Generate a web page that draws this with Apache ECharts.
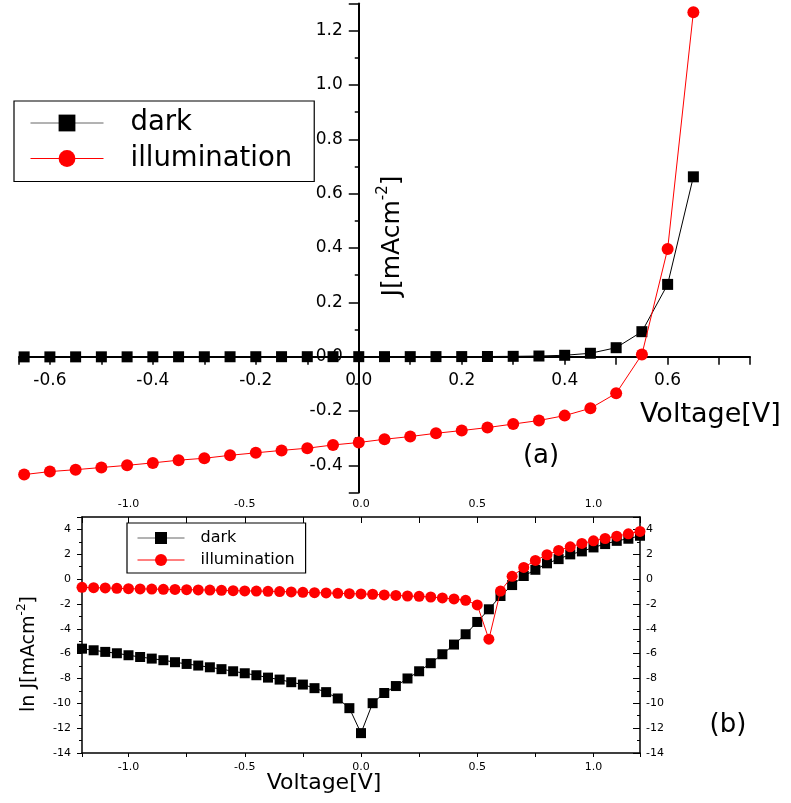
<!DOCTYPE html>
<html>
<head>
<meta charset="utf-8">
<script src="https://cdn.jsdelivr.net/npm/echarts@6/dist/echarts.min.js"></script>
<style>html,body{margin:0;padding:0;background:#fff}#c{width:791px;height:803px}</style>
</head>
<body>
<div id="c"></div>
<script>
// ---- Panel (a): J–V (linear) ----
var voltageA = [-0.65,-0.6,-0.55,-0.5,-0.45,-0.4,-0.35,-0.3,-0.25,-0.2,-0.15,-0.1,-0.05,0,
  0.05,0.1,0.15,0.2,0.25,0.3,0.35,0.4,0.45,0.5,0.55,0.6,0.65];
var darkA = [-0.0008,-0.0008,-0.0007,-0.0006,-0.0006,-0.0005,-0.0004,-0.0004,-0.0003,-0.0002,-0.0001,-0.0001,0,0,
  0.00005,0.0001,0.0002,0.0003,0.0006,0.0012,0.0024,0.0051,0.0125,0.033,0.092,0.266,0.662];
var illumA = [-0.434,-0.423,-0.416,-0.408,-0.400,-0.391,-0.381,-0.374,-0.363,-0.354,-0.345,-0.337,-0.325,-0.316,
  -0.304,-0.294,-0.282,-0.272,-0.261,-0.248,-0.235,-0.217,-0.190,-0.135,0.008,0.396,1.268];

// ---- Panel (b): ln J–V ----
var voltageB = [-1.2,-1.15,-1.1,-1.05,-1.0,-0.95,-0.9,-0.85,-0.8,-0.75,-0.7,-0.65,-0.6,-0.55,-0.5,-0.45,-0.4,-0.35,-0.3,-0.25,-0.2,-0.15,-0.1,-0.05,
  0,0.05,0.1,0.15,0.2,0.25,0.3,0.35,0.4,0.45,0.5,0.55,0.6,0.65,0.7,0.75,0.8,0.85,0.9,0.95,1.0,1.05,1.1,1.15,1.2];
var darkB = [-5.60,-5.73,-5.86,-5.97,-6.13,-6.27,-6.40,-6.53,-6.69,-6.83,-6.96,-7.10,-7.25,-7.42,-7.58,-7.74,-7.93,-8.09,-8.30,-8.49,-8.78,-9.10,-9.61,-10.39,
  -12.40,-9.99,-9.17,-8.61,-8.00,-7.42,-6.77,-6.05,-5.27,-4.44,-3.45,-2.43,-1.36,-0.48,0.25,0.75,1.27,1.61,1.99,2.23,2.55,2.82,3.08,3.25,3.49];
var illumB = [-0.66,-0.69,-0.71,-0.74,-0.77,-0.79,-0.80,-0.82,-0.83,-0.85,-0.87,-0.88,-0.90,-0.93,-0.95,-0.96,-0.98,-1.00,-1.03,-1.06,-1.09,-1.11,-1.14,-1.17,
  -1.19,-1.22,-1.27,-1.31,-1.36,-1.39,-1.44,-1.52,-1.60,-1.71,-2.08,-4.84,-0.96,0.22,0.94,1.50,1.96,2.31,2.60,2.87,3.08,3.27,3.46,3.65,3.84];

var seriesNames = ['dark', 'illumination'];

// axis ranges
var xRangeA = [-0.66, 0.76], yRangeA = [-0.5, 1.3];
var xRangeB = [-1.2, 1.2], yRangeB = [-14, 5];

function pairs(xs, ys) { return xs.map(function (x, i) { return [x, ys[i]]; }); }
function isMult(v, step) { var q = v / step; return Math.abs(q - Math.round(q)) < 1e-6; }

var W = 791, H = 803;
var FONT = 'DejaVu Sans';
// panel (a) grid box
var GA = {left: 19, right: 41, top: 3.5, bottom: 310.5};
var plotWA = W - GA.left - GA.right, plotHA = H - GA.top - GA.bottom;
var zeroXA = GA.left + (0 - xRangeA[0]) / (xRangeA[1] - xRangeA[0]) * plotWA;
var zeroYA = GA.top + (yRangeA[1] - 0) / (yRangeA[1] - yRangeA[0]) * plotHA;

var chart = echarts.init(document.getElementById('c'), null, {renderer: 'canvas'});

var hidden = {show: false};
var option = {
  backgroundColor: '#fff',
  animation: false,
  textStyle: {fontFamily: FONT, color: '#000'},
  grid: [
    {left: GA.left, right: GA.right, top: GA.top, bottom: GA.bottom, containLabel: false, outerBoundsMode: 'none'},
    {left: 82, right: 151, top: 517, bottom: 50, containLabel: false, outerBoundsMode: 'none'},
    // label carrier for panel (a) x axis (bottom edge sits on J = 0)
    {left: GA.left, right: GA.right, top: GA.top, bottom: H - zeroYA, containLabel: false, outerBoundsMode: 'none'},
    // label carrier for panel (a) y axis (left edge sits on V = 0)
    {left: zeroXA, right: GA.right, top: GA.top, bottom: GA.bottom, containLabel: false, outerBoundsMode: 'none'}
  ],
  xAxis: [
    {
      type: 'value', gridIndex: 0, min: xRangeA[0], max: xRangeA[1], minInterval: 0.2, maxInterval: 0.2,
      axisLine: {onZero: true, lineStyle: {color: '#000', width: 2}},
      axisTick: {inside: false, length: 8, lineStyle: {color: '#000', width: 1.5}},
      minorTick: {show: true, splitNumber: 2, length: 8, lineStyle: {color: '#000', width: 1.5}},
      splitLine: {show: false},
      axisLabel: {show: false}
    },
    {
      type: 'value', gridIndex: 1, position: 'bottom', min: xRangeB[0], max: xRangeB[1], minInterval: 0.5, maxInterval: 0.5,
      axisLine: {onZero: false, lineStyle: {color: '#000', width: 1.5}},
      axisTick: {inside: false, length: 4, lineStyle: {color: '#000', width: 1}},
      minorTick: {show: true, splitNumber: 2, length: 4, lineStyle: {color: '#000', width: 1}},
      splitLine: {show: false},
      axisLabel: {margin: 9, fontSize: 11, fontFamily: FONT, color: '#000',
        formatter: function (v) { return isMult(v, 0.5) ? v.toFixed(1) : ''; }}
    },
    {
      type: 'value', gridIndex: 1, position: 'top', min: xRangeB[0], max: xRangeB[1], minInterval: 0.5, maxInterval: 0.5,
      axisLine: {onZero: false, lineStyle: {color: '#000', width: 1.5}},
      axisTick: {inside: true, length: 6, lineStyle: {color: '#000', width: 1}},
      minorTick: {show: true, splitNumber: 2, length: 6, lineStyle: {color: '#000', width: 1}},
      splitLine: {show: false},
      axisLabel: {margin: 7, fontSize: 11, fontFamily: FONT, color: '#000',
        formatter: function (v) { return isMult(v, 0.5) ? v.toFixed(1) : ''; }}
    },
    {
      type: 'value', gridIndex: 2, position: 'bottom', min: xRangeA[0], max: xRangeA[1], minInterval: 0.2, maxInterval: 0.2,
      axisLine: {show: false, onZero: false}, axisTick: hidden, splitLine: hidden,
      axisLabel: {margin: 15, fontSize: 17, fontFamily: FONT, color: '#000',
        formatter: function (v) { return isMult(v, 0.2) ? v.toFixed(1) : ''; }}
    },
    {type: 'value', gridIndex: 3, show: false, min: 0, max: 1}
  ],
  yAxis: [
    {
      type: 'value', gridIndex: 0, min: yRangeA[0], max: yRangeA[1], minInterval: 0.2, maxInterval: 0.2,
      axisLine: {onZero: true, lineStyle: {color: '#000', width: 2}},
      axisTick: {inside: false, length: 10, lineStyle: {color: '#000', width: 1.5}},
      minorTick: {show: true, splitNumber: 2, length: 4, lineStyle: {color: '#000', width: 1.5}},
      splitLine: {show: false},
      axisLabel: {show: false}
    },
    {
      type: 'value', gridIndex: 1, position: 'left', min: yRangeB[0], max: yRangeB[1], minInterval: 2, maxInterval: 2,
      axisLine: {onZero: false, lineStyle: {color: '#000', width: 1.5}},
      axisTick: {inside: false, length: 5, lineStyle: {color: '#000', width: 1}},
      minorTick: {show: true, splitNumber: 2, length: 3, lineStyle: {color: '#000', width: 1}},
      splitLine: {show: false},
      axisLabel: {margin: 11, fontSize: 11, fontFamily: FONT, color: '#000',
        formatter: function (v) { return (isMult(v, 2) && v <= 4) ? String(v) : ''; }}
    },
    {
      type: 'value', gridIndex: 1, position: 'right', min: yRangeB[0], max: yRangeB[1], minInterval: 2, maxInterval: 2,
      axisLine: {onZero: false, lineStyle: {color: '#000', width: 1.5}},
      axisTick: {inside: true, length: 7, lineStyle: {color: '#000', width: 1}},
      minorTick: {show: true, splitNumber: 2, length: 3, lineStyle: {color: '#000', width: 1}},
      splitLine: {show: false},
      axisLabel: {margin: 6, fontSize: 11, fontFamily: FONT, color: '#000',
        formatter: function (v) { return (isMult(v, 2) && v <= 4) ? String(v) : ''; }}
    },
    {type: 'value', gridIndex: 2, show: false, min: 0, max: 1},
    {
      type: 'value', gridIndex: 3, position: 'left', min: yRangeA[0], max: yRangeA[1], minInterval: 0.2, maxInterval: 0.2,
      axisLine: {show: false, onZero: false}, axisTick: hidden, splitLine: hidden,
      axisLabel: {margin: 16, fontSize: 17, fontFamily: FONT, color: '#000',
        formatter: function (v) { return isMult(v, 0.2) ? v.toFixed(1) : ''; }}
    }
  ],
  legend: [
    {
      data: [{name: seriesNames[0], lineStyle: {color: '#666', width: 1}}, {name: seriesNames[1], lineStyle: {color: '#f00', width: 1}}],
      orient: 'vertical', left: 14, top: 101, padding: [8, 22, 9, 16],
      itemWidth: 73, itemHeight: 21, itemGap: 7.5,
      borderColor: '#000', borderWidth: 1.2, backgroundColor: '#fff',
      selectedMode: false,
      textStyle: {fontSize: 27.5, fontFamily: FONT, color: '#000', padding: [0, 0, 0, 22]}
    },
    {
      data: [{name: seriesNames[0], lineStyle: {color: '#666', width: 1}}, {name: seriesNames[1], lineStyle: {color: '#f00', width: 1}}],
      orient: 'vertical', left: 127, top: 523, padding: [7, 11, 5, 10],
      itemWidth: 47, itemHeight: 15, itemGap: 6,
      borderColor: '#000', borderWidth: 1.2, backgroundColor: '#fff',
      selectedMode: false,
      textStyle: {fontSize: 16, fontFamily: FONT, color: '#000', padding: [0, 0, 0, 11]}
    }
  ],
  series: [
    {name: seriesNames[0], type: 'line', xAxisIndex: 0, yAxisIndex: 0, data: pairs(voltageA, darkA),
      symbol: 'rect', symbolSize: 11, showAllSymbol: true,
      lineStyle: {color: '#000', width: 1}, itemStyle: {color: '#000'}, z: 3},
    {name: seriesNames[1], type: 'line', xAxisIndex: 0, yAxisIndex: 0, data: pairs(voltageA, illumA),
      symbol: 'circle', symbolSize: 12, showAllSymbol: true,
      lineStyle: {color: '#f00', width: 1}, itemStyle: {color: '#f00'}, z: 4},
    {name: seriesNames[0], type: 'line', xAxisIndex: 1, yAxisIndex: 1, data: pairs(voltageB, darkB),
      symbol: 'rect', symbolSize: 10, showAllSymbol: true,
      lineStyle: {color: '#000', width: 1}, itemStyle: {color: '#000'}, z: 3},
    {name: seriesNames[1], type: 'line', xAxisIndex: 1, yAxisIndex: 1, data: pairs(voltageB, illumB),
      symbol: 'circle', symbolSize: 11, showAllSymbol: true,
      lineStyle: {color: '#f00', width: 1}, itemStyle: {color: '#f00'}, z: 4}
  ],
  graphic: [
    {type: 'text', x: 392, y: 236, rotation: Math.PI / 2, z: 10,
      style: {text: '{a|J[mAcm}{s|-2}{a|]}', align: 'center', verticalAlign: 'middle', fill: '#000',
        rich: {a: {fontSize: 25, fontFamily: FONT, fill: '#000'}, s: {fontSize: 15, fontFamily: FONT, fill: '#000', padding: [0, 0, 18, 0]}}}},
    {type: 'text', x: 640, y: 415, z: 10,
      style: {text: 'Voltage[V]', fontSize: 27, fontFamily: FONT, fill: '#000', align: 'left', verticalAlign: 'middle'}},
    {type: 'text', x: 541, y: 456, z: 10,
      style: {text: '(a)', fontSize: 26, fontFamily: FONT, fill: '#000', align: 'center', verticalAlign: 'middle'}},
    {type: 'text', x: 29, y: 654, rotation: Math.PI / 2, z: 10,
      style: {text: '{a|ln J[mAcm}{s|-2}{a|]}', align: 'center', verticalAlign: 'middle', fill: '#000',
        rich: {a: {fontSize: 19, fontFamily: FONT, fill: '#000'}, s: {fontSize: 12, fontFamily: FONT, fill: '#000', padding: [0, 0, 14, 0]}}}},
    {type: 'text', x: 324, y: 783, z: 10,
      style: {text: 'Voltage[V]', fontSize: 22, fontFamily: FONT, fill: '#000', align: 'center', verticalAlign: 'middle'}},
    {type: 'text', x: 728, y: 725, z: 10,
      style: {text: '(b)', fontSize: 26, fontFamily: FONT, fill: '#000', align: 'center', verticalAlign: 'middle'}}
  ]
};
chart.setOption(option);
</script>
</body>
</html>
